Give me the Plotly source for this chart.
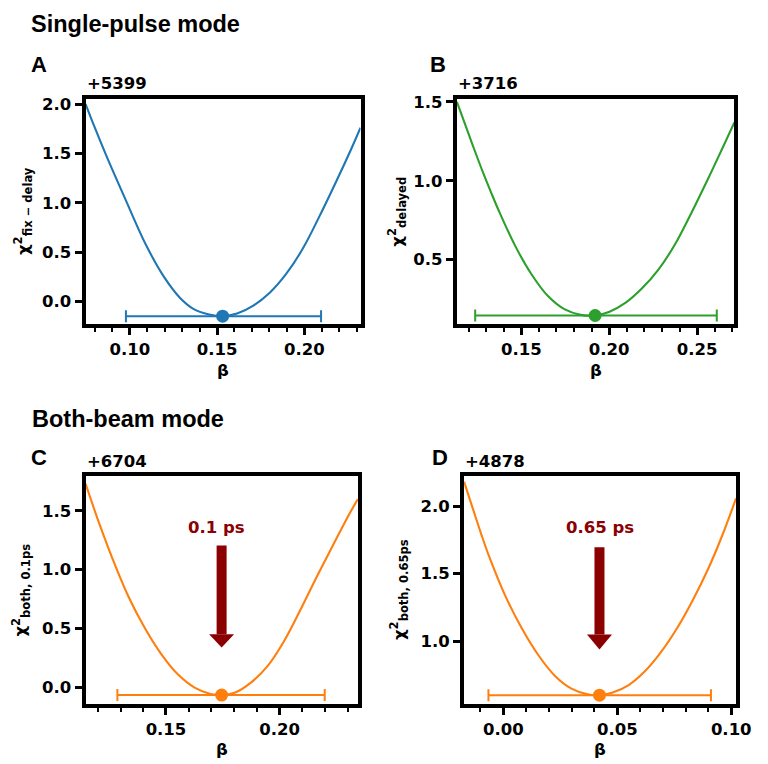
import plotly.graph_objects as go

W, H = 768, 764

# ------------------------- data -------------------------
panel_letters = ["A", "B", "C", "D"]
section_titles = ["Single-pulse mode", "Both-beam mode"]
y_titles = [
    "χ<sup>2</sup><sub>fix − delay</sub>",
    "χ<sup>2</sup><sub>delayed</sub>",
    "χ<sup>2</sup><sub>both, 0.1ps</sub>",
    "χ<sup>2</sup><sub>both, 0.65ps</sub>",
]
x_title = "β"
chi2_offset = [5399, 3716, 6704, 4878]

beta_A = [0.0747, 0.0800, 0.0865, 0.0969, 0.1094, 0.1200, 0.1287, 0.1362, 0.1455, 0.1532,
          0.1615, 0.1708, 0.1802, 0.1896, 0.1989, 0.2083, 0.2176, 0.2270, 0.2322]
chi2_A = [2.00, 1.76, 1.48, 1.06, 0.57, 0.24, 0.04, -0.07, -0.13, -0.147,
          -0.12, -0.04, 0.09, 0.28, 0.53, 0.85, 1.19, 1.55, 1.76]

beta_B = [0.1134, 0.1188, 0.1234, 0.1280, 0.1327, 0.1373, 0.1467, 0.1559, 0.1652, 0.1745, 0.1838, 0.1920,
          0.2002, 0.2094, 0.2187, 0.2280, 0.2373, 0.2466, 0.2559, 0.2652, 0.2712]
chi2_B = [1.50, 1.335, 1.195, 1.060, 0.930, 0.808, 0.584, 0.406, 0.269, 0.186, 0.150, 0.146,
          0.170, 0.227, 0.318, 0.437, 0.594, 0.793, 1.005, 1.225, 1.37]

beta_C = [0.1146, 0.1191, 0.1227, 0.1263, 0.1335, 0.1408, 0.1480, 0.1552, 0.1624, 0.1696, 0.1745,
          0.1802, 0.1874, 0.1947, 0.2019, 0.2091, 0.2163, 0.2236, 0.2308, 0.2345]
chi2_C = [1.73, 1.475, 1.284, 1.101, 0.770, 0.500, 0.280, 0.110, 0.000, -0.056, -0.066,
          -0.047, 0.040, 0.180, 0.390, 0.655, 0.935, 1.21, 1.475, 1.60]

beta_D = [-0.0172, -0.0132, -0.0096, -0.0060, 0.0012, 0.0083, 0.0155, 0.0227, 0.0299, 0.0370, 0.0422,
          0.0480, 0.0550, 0.0620, 0.0690, 0.0760, 0.0830, 0.0900, 0.0960, 0.1021]
chi2_D = [2.18, 1.973, 1.789, 1.618, 1.324, 1.090, 0.894, 0.743, 0.649, 0.607, 0.601,
          0.62, 0.675, 0.775, 0.915, 1.09, 1.30, 1.54, 1.78, 2.056]

best_beta = [0.1532, 0.1920, 0.1745, 0.0422]
best_chi2 = [-0.147, 0.146, -0.066, 0.601]
beta_lo = [0.0978, 0.1238, 0.1286, -0.0065]
beta_hi = [0.2096, 0.2612, 0.2199, 0.0911]

delay_labels = [None, None, "0.1 ps", "0.65 ps"]
# ------------------------------------------------------------------------------

curves_x = [beta_A, beta_B, beta_C, beta_D]
curves_y = [chi2_A, chi2_B, chi2_C, chi2_D]
colors = ["#1f77b4", "#2ca02c", "#ff7f0e", "#ff7f0e"]

# layout geometry (pixels)
boxes = [  # x0, x1, ytop, ybottom
    (87.3, 367.7, 93.3, 321.0),
    (466.0, 749.0, 93.3, 321.0),
    (87.3, 365.0, 474.0, 703.3),
    (473.3, 750.7, 474.0, 703.3),
]
x_ranges = [[0.0747, 0.2322], [0.1134, 0.2712], [0.1146, 0.2345], [-0.0172, 0.1021]]
y_ranges = [[-0.231, 2.055], [0.089, 1.521], [-0.14, 1.794], [0.537, 2.22]]
y_dticks = [0.5, 0.5, 0.5, 0.5]

# arrow geometry for panels C, D (data y): shaft top, head base, tip ; text y, text x
arrow_geom = [None, None, (1.205, 0.451, 0.338, 1.357, 0.1721), (1.695, 1.049, 0.939, 1.840, 0.0425)]


def px(X):
    return X / W


def py(Y):
    return 1 - Y / H


fig = go.Figure()
tickfont = dict(family="DejaVu Sans", size=16.5, color="black", weight="bold")
shapes = []
annotations = []

for i in range(4):
    xa = "x" if i == 0 else f"x{i+1}"
    ya = "y" if i == 0 else f"y{i+1}"
    fig.add_trace(go.Scatter(
        x=curves_x[i], y=curves_y[i], mode="lines",
        line=dict(color=colors[i], width=2.1, shape="spline", smoothing=1.0),
        xaxis=xa, yaxis=ya, showlegend=False, hoverinfo="skip"))
    fig.add_trace(go.Scatter(
        x=[best_beta[i]], y=[best_chi2[i]], mode="markers",
        marker=dict(color=colors[i], size=13),
        error_x=dict(type="data", symmetric=False,
                     array=[beta_hi[i] - best_beta[i]],
                     arrayminus=[best_beta[i] - beta_lo[i]],
                     color=colors[i], thickness=2, width=6),
        xaxis=xa, yaxis=ya, showlegend=False, hoverinfo="skip"))

    X0, X1, Yt, Yb = boxes[i]
    axis_common = dict(
        showline=True, linewidth=4, linecolor="black", mirror=True,
        ticks="outside", ticklen=7, tickwidth=2.5, tickcolor="black",
        showgrid=False, zeroline=False, tickfont=tickfont,
    )
    xkey = "xaxis" if i == 0 else f"xaxis{i+1}"
    ykey = "yaxis" if i == 0 else f"yaxis{i+1}"
    fig.update_layout(**{
        xkey: dict(domain=[px(X0), px(X1)], range=x_ranges[i], anchor=ya,
                   tick0=0, dtick=0.05, tickformat=".2f",
                   minor=dict(dtick=0.01, tick0=0, ticks="outside", ticklen=4,
                              tickwidth=1.5, tickcolor="black"),
                   **axis_common),
        ykey: dict(domain=[py(Yb), py(Yt)], range=y_ranges[i], anchor=xa,
                   tick0=0, dtick=y_dticks[i], tickformat=".1f",
                   **axis_common),
    })

    # offset text
    annotations.append(dict(
        x=px(X0 - 1), y=py(Yt - 15), xref="paper", yref="paper",
        text=f"+{chi2_offset[i]}", showarrow=False, xanchor="left", yanchor="middle",
        font=dict(family="DejaVu Sans", size=16.5, color="black", weight="bold")))
    # x title
    annotations.append(dict(
        x=px((X0 + X1) / 2), y=py(Yb + 46), xref="paper", yref="paper",
        text=x_title, showarrow=False, xanchor="center", yanchor="middle",
        font=dict(family="DejaVu Sans", size=16.5, color="black", weight="bold")))
    # y title
    ytx = [23, 404, 21, 407][i]
    annotations.append(dict(
        x=px(ytx), y=py((Yt + Yb) / 2), xref="paper", yref="paper",
        text=y_titles[i], showarrow=False, xanchor="center", yanchor="middle",
        textangle=-90,
        font=dict(family="DejaVu Sans", size=16.5, color="black", weight="bold")))

    if arrow_geom[i] is not None:
        top, base, tip, ty, tx = arrow_geom[i]
        shapes.append(dict(type="rect", xref=xa, yref=ya, xsizemode="pixel",
                           xanchor=best_beta[i], x0=-5, x1=5, y0=base, y1=top,
                           fillcolor="#8b0000", line=dict(width=0)))
        shapes.append(dict(type="path", xref=xa, yref=ya, xsizemode="pixel",
                           xanchor=best_beta[i],
                           path=f"M -12.5,{base} L 12.5,{base} L 0,{tip} Z",
                           fillcolor="#8b0000", line=dict(width=0)))
        annotations.append(dict(
            x=tx, y=ty, xref=xa, yref=ya, text=delay_labels[i], showarrow=False,
            xanchor="center", yanchor="middle",
            font=dict(family="DejaVu Sans", size=16.5, color="#8b0000", weight="bold")))

# section titles & panel letters
title_font = dict(family="Liberation Sans", size=23.5, color="black", weight="bold")
letter_font = dict(family="Liberation Sans", size=22, color="black", weight="bold")
annotations.append(dict(x=px(29.5), y=py(18.5), xref="paper", yref="paper", text=section_titles[0],
                        showarrow=False, xanchor="left", yanchor="middle", font=title_font))
annotations.append(dict(x=px(31), y=py(416.5), xref="paper", yref="paper", text=section_titles[1],
                        showarrow=False, xanchor="left", yanchor="middle", font=title_font))
letter_pos = [(30, 58.5), (437, 58.5), (29.5, 455.5), (439, 455.5)]
for L, (lx, ly) in zip(panel_letters, letter_pos):
    annotations.append(dict(x=px(lx), y=py(ly), xref="paper", yref="paper", text=L,
                            showarrow=False, xanchor="left", yanchor="middle", font=letter_font))

fig.update_layout(
    width=W, height=H, margin=dict(l=0, r=0, t=0, b=0),
    paper_bgcolor="white", plot_bgcolor="white",
    shapes=shapes, annotations=annotations, showlegend=False,
)

fig.write_html("out.html")
